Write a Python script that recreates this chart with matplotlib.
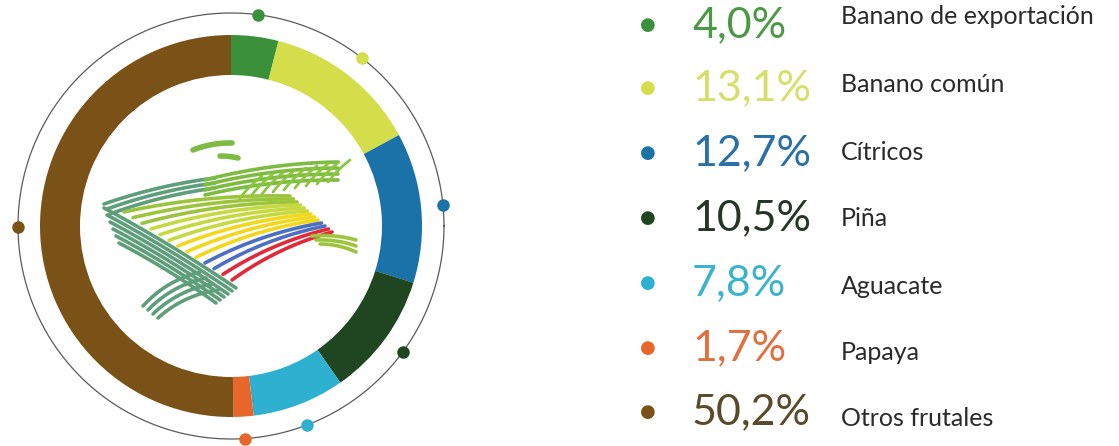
import matplotlib.pyplot as plt
import numpy as np

# data
cultivos = ["Banano de exportación", "Banano común", "Cítricos", "Piña",
            "Aguacate", "Papaya", "Otros frutales"]
participacion = [4.0, 13.1, 12.7, 10.5, 7.8, 1.7, 50.2]
colores = ["#3a9139", "#d4dd4a", "#1a72a8", "#1f4620", "#2eb0d0", "#e8662a", "#7a5218"]
colores_pct = ["#4a9a45", "#d6df6a", "#2a6fa5", "#263626", "#3ab3cf", "#e0703e", "#5b4a2a"]

W, H = 1119, 446
fig = plt.figure(figsize=(W / 100, H / 100), dpi=100)

# left axes in pixel units, centre of the donut at (231, 226) from top-left
cx, cy = 231, 226
AW = 500
ax = fig.add_axes([0, 0, AW / W, 1])

def P(x, y):
    return x - cx, cy - y

ax.pie(participacion, colors=colores, radius=191, startangle=90, counterclock=False,
       wedgeprops=dict(width=40, linewidth=0))

# outer thin ring with a dot at the middle of each slice
R = 213
t = np.linspace(0, 2 * np.pi, 400)
ax.plot(R * np.cos(t), R * np.sin(t), color="#5a5a5a", lw=0.9, zorder=3)
acum = np.cumsum([0] + participacion[:-1])
for ini, v, c in zip(acum, participacion, colores):
    ang = np.deg2rad(90 - (ini + v / 2) * 3.6)
    ax.plot(R * np.cos(ang), R * np.sin(ang), "o", ms=9, color=c, zorder=4,
            markeredgewidth=0, clip_on=False)

# logo in the middle (rough sketch of the stripes)
def curva(p0, p1, bulge, color, lw=2.6):
    p0 = np.array(P(*p0)); p1 = np.array(P(*p1))
    d = p1 - p0
    n = np.array([-d[1], d[0]]) / np.hypot(*d)
    c = (p0 + p1) / 2 + n * bulge
    s = np.linspace(0, 1, 40)[:, None]
    pts = (1 - s) ** 2 * p0 + 2 * (1 - s) * s * c + s ** 2 * p1
    ax.plot(pts[:, 0], pts[:, 1], color=color, lw=lw, solid_capstyle="round", zorder=5)

sage = "#5f9e7a"
# upper edge
for k in range(3):
    curva((104 + 3 * k, 204 + 5 * k), (215, 178 + 5 * k), 6, sage)
for k in range(4):
    curva((205, 180 + 5 * k), (338, 162 + 6 * k), 8, "#7dbb42")
# hatching on the upper green part
for k in range(9):
    x0 = 240 + 11 * k
    curva((x0, 198 - 2 * k), (x0 + 22, 176 - 2 * k), 2, "#8cc63f", lw=2.0)
# diagonal stripes
for k in range(6):
    curva((104 + 3 * k, 208 + 7 * k), (236 - 4 * k, 288 + 3 * k), 4, sage)
# field rows
filas = ["#9cc43c"] * 3 + ["#c6d940"] * 3 + ["#f1d81c"] * 3 + ["#4c6fc2"] * 2 + ["#e02a3a"] * 2
for k, c in enumerate(filas):
    f = k / (len(filas) - 1)
    curva((124 + 108 * f, 212 + 68 * f), (290 + 42 * f, 196 + 36 * f), 10, c)
# loose ends at the right
for k in range(3):
    curva((312 + 4 * k, 236 + 4 * k), (356, 240 + 6 * k), 4, "#9cc43c")
# lower curls
for k in range(4):
    curva((143 + 5 * k, 306 + 4 * k), (200 + 6 * k, 272 + 6 * k), 10, sage)
# small marks at the top
curva((193, 150), (232, 143), 4, "#7dbb42", lw=4)
curva((220, 156), (238, 158), 1, "#7dbb42", lw=4)

ax.set_xlim(-cx, AW - cx)
ax.set_ylim(-(H - cy), cy)
ax.set_aspect("equal")
ax.axis("off")

# legend at the right
y_pct = [25, 88, 153, 218, 283, 348, 412]
y_lab = [17, 85, 152, 218, 287, 352, 418]
etiquetas_pct = [f"{v:.1f}%".replace(".", ",") for v in participacion]
for yp, yl, lab, pct, c, cp in zip(y_pct, y_lab, cultivos, etiquetas_pct, colores, colores_pct):
    fig.text(648 / W, 1 - yp / H, "\u25cf", color=c, fontsize=13, ha="center", va="center")
    fig.text(692 / W, 1 - yp / H, pct, color=cp, fontsize=31, ha="left", va="center",
             family="Lato")
    fig.text(841 / W, 1 - yl / H, lab, color="#2a2a2a", fontsize=18, ha="left",
             va="center", family="Lato")

fig.savefig("out.png", dpi=100, facecolor="white")
